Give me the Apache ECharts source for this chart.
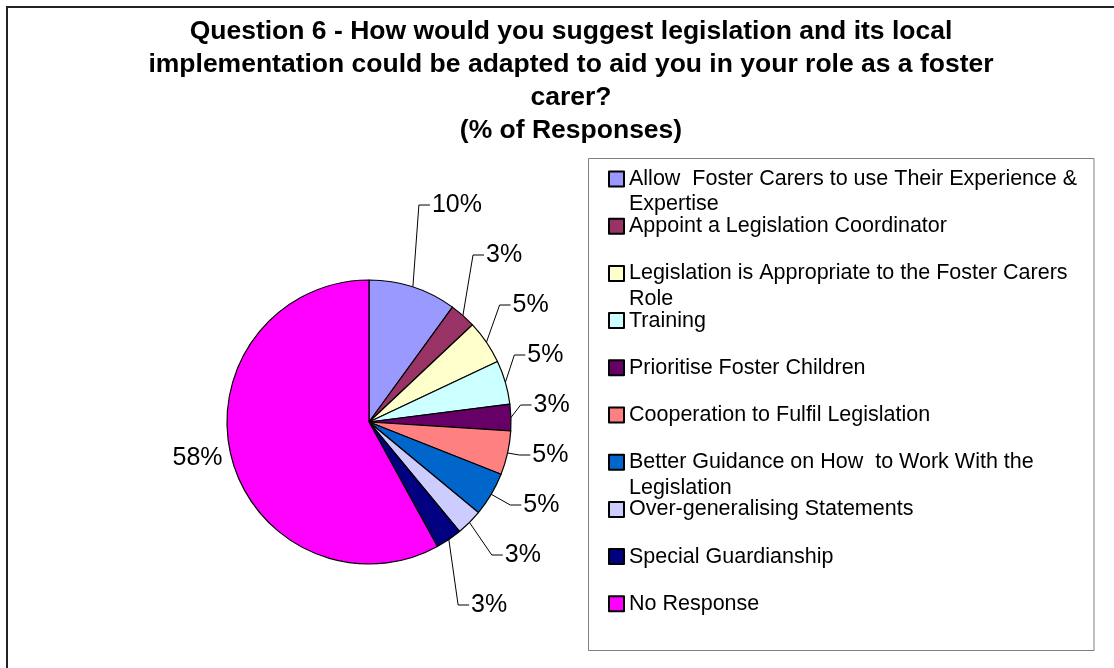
<!DOCTYPE html>
<html>
<head>
<meta charset="utf-8">
<title>Question 6 - responses</title>
<script src="https://cdn.jsdelivr.net/npm/echarts@6/dist/echarts.min.js"></script>
<style>
  html, body { margin: 0; padding: 0; background: #ffffff; }
  #chart { width: 1114px; height: 668px; }
</style>
</head>
<body>
<div id="chart"></div>
<script>
// Answer categories, in clockwise order from 12 o'clock
const categories = [
  'Allow  Foster Carers to use Their Experience & Expertise',
  'Appoint a Legislation Coordinator',
  'Legislation is Appropriate to the Foster Carers Role',
  'Training',
  'Prioritise Foster Children',
  'Cooperation to Fulfil Legislation',
  'Better Guidance on How  to Work With the Legislation',
  'Over-generalising Statements',
  'Special Guardianship',
  'No Response'
];

// Share of responses (%)
const responsePct = [10, 3, 5, 5, 3, 5, 5, 3, 3, 58];

// Slice fill colours
const sliceColors = [
  '#9999FF', '#993366', '#FFFFCC', '#CCFFFF', '#660066',
  '#FF8080', '#0066CC', '#CCCCFF', '#000080', '#FF00FF'
];

const titleText = 'Question 6 - How would you suggest legislation and its local\n' +
  'implementation could be adapted to aid you in your role as a foster\n' +
  'carer?\n(% of Responses)';

// Pie geometry
const PIE_CX = 369;
const PIE_CY = 422;
const PIE_R = 142;

// Legend geometry
const LEGEND_FONT = 21.5;
const LEGEND_LH = 25.5;
const LEGEND_WRAP = 470;
const LEGEND_FIRST_CENTER = 179;
const LEGEND_STEP = 47.2;

// Word-wrap a legend label to the legend's text width
const measureCtx = document.createElement('canvas').getContext('2d');
measureCtx.font = LEGEND_FONT + 'px "Liberation Sans", Arial, sans-serif';
function wrapLabel(text) {
  const words = text.split(' ');
  const lines = [];
  let cur = null;
  words.forEach(function (w) {
    if (cur === null) { cur = w; return; }
    const trial = cur + ' ' + w;
    if (measureCtx.measureText(trial).width > LEGEND_WRAP) {
      lines.push(cur);
      cur = w;
    } else {
      cur = trial;
    }
  });
  lines.push(cur);
  return lines;
}

const pieData = categories.map(function (name, i) {
  const item = { name: name, value: responsePct[i], itemStyle: { color: sliceColors[i] } };
  if (name === 'No Response') {
    item.labelLine = { show: false, length: 4, length2: 0 };
  }
  return item;
});

// One legend block per category so every entry sits on a fixed row
const legends = categories.map(function (name, i) {
  const lines = wrapLabel(name);
  const center = LEGEND_FIRST_CENTER + i * LEGEND_STEP;
  const nLines = lines.length > 1 ? 3 : 1;
  return {
    data: [name],
    orient: 'vertical',
    left: 608,
    top: center - (nLines * LEGEND_LH) / 2,
    padding: 0,
    icon: 'rect',
    itemWidth: 15,
    itemHeight: 15,
    itemGap: 0,
    selectedMode: false,
    textStyle: {
      fontFamily: '"Liberation Sans", Arial, sans-serif',
      fontSize: LEGEND_FONT,
      lineHeight: LEGEND_LH,
      color: '#000'
    },
    formatter: function () {
      return lines.length > 1 ? ' \n' + lines[0] + '\n' + lines.slice(1).join(' ') : lines[0];
    }
  };
});

// Leader lines run from the slice edge to a short horizontal tick beside the label
function leaderLayout(p) {
  if (!p.labelLinePoints || !p.labelLinePoints.length) return {};
  const start = p.labelLinePoints[0];
  const r = p.labelRect;
  const ly = r.y + r.height / 2;
  const onRight = start[0] >= PIE_CX;
  const lx = onRight ? r.x - 2 : r.x + r.width + 2;
  const elbow = onRight ? lx - 11 : lx + 11;
  return { labelLinePoints: [start.slice(), [elbow, ly], [lx, ly]] };
}

const chart = echarts.init(document.getElementById('chart'), null, { renderer: 'canvas' });

chart.setOption({
  backgroundColor: '#ffffff',
  animation: false,
  title: {
    text: titleText,
    left: 566,
    top: 10,
    textAlign: 'center',
    textStyle: {
      fontFamily: '"Liberation Sans", Arial, sans-serif',
      fontWeight: 'bold',
      fontSize: 26.5,
      lineHeight: 33,
      color: '#000'
    }
  },
  legend: legends,
  graphic: [
    {
      type: 'rect',
      shape: { x: 7, y: 7, width: 1300, height: 900 },
      style: { fill: 'none', stroke: '#222', lineWidth: 2 },
      silent: true
    },
    {
      type: 'rect',
      shape: { x: 588.5, y: 158.5, width: 505.5, height: 492 },
      style: { fill: 'none', stroke: '#7f7f7f', lineWidth: 1 },
      silent: true,
      z: -1
    }
  ],
  series: [{
    type: 'pie',
    left: 0,
    top: 0,
    right: 0,
    bottom: 38,
    center: [PIE_CX, PIE_CY],
    radius: PIE_R,
    startAngle: 90,
    clockwise: true,
    avoidLabelOverlap: true,
    itemStyle: { borderColor: '#000', borderWidth: 1.2 },
    label: {
      show: true,
      position: 'outside',
      formatter: '{c}%',
      fontFamily: '"Liberation Sans", Arial, sans-serif',
      fontSize: 25,
      lineHeight: 48,
      color: '#000'
    },
    labelLine: {
      show: true,
      length: 13,
      length2: 10,
      lineStyle: { color: '#000', width: 1 }
    },
    labelLayout: leaderLayout,
    emphasis: { disabled: true },
    data: pieData
  }]
});
</script>
</body>
</html>
